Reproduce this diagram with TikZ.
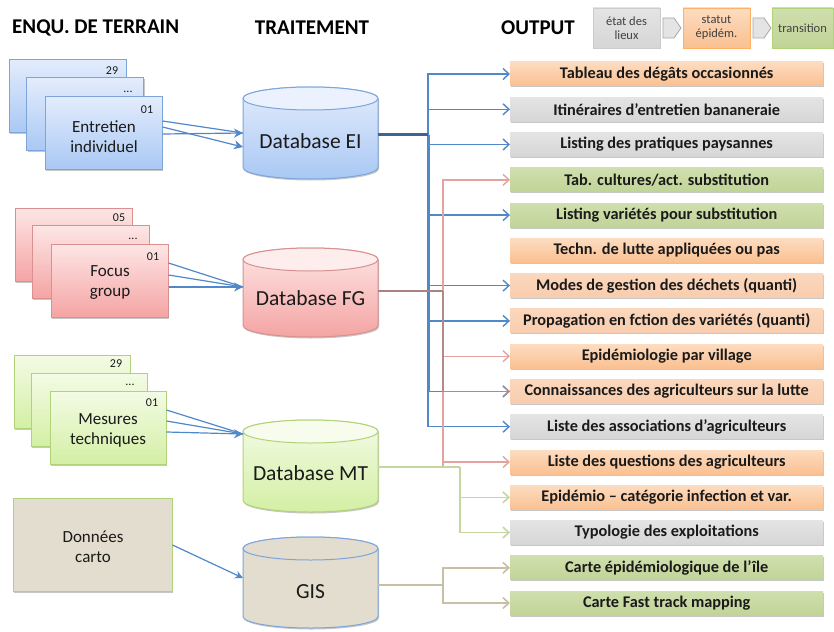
\documentclass[tikz,border=0pt]{standalone}
\usepackage{fontspec}
\setmainfont{Carlito}
\usetikzlibrary{arrows.meta,shadows}
\definecolor{bTop}{HTML}{E3ECFC}\definecolor{bBot}{HTML}{A9C8F4}\definecolor{bBrd}{HTML}{7CA5DA}
\definecolor{pTop}{HTML}{FDE6E6}\definecolor{pBot}{HTML}{F4A4A3}\definecolor{pBrd}{HTML}{D9908E}
\definecolor{gTop}{HTML}{F3FBE5}\definecolor{gBot}{HTML}{D3EFA4}\definecolor{gBrd}{HTML}{B2D27A}
\definecolor{beige}{HTML}{E2DDCE}
\definecolor{oTop}{HTML}{FDDCC0}\definecolor{oBot}{HTML}{FAC091}
\definecolor{peach}{HTML}{FBD7BC}\definecolor{peachB}{HTML}{F9CDAE}
\definecolor{grTop}{HTML}{E4E4E4}\definecolor{grBot}{HTML}{D6D6D6}
\definecolor{gnTop}{HTML}{CFDFAE}\definecolor{gnBot}{HTML}{C1D497}
\definecolor{lnBlue}{HTML}{5088CA}\definecolor{lnBlueD}{HTML}{3E6494}
\definecolor{lnPink}{HTML}{E2A3A1}\definecolor{lnPinkD}{HTML}{A98483}
\definecolor{lnGreen}{HTML}{C5D7A0}\definecolor{lnGis}{HTML}{C8C0A4}
\definecolor{txt}{HTML}{1A1A1A}
\tikzset{
  shad/.style={drop shadow={shadow xshift=1pt,shadow yshift=-1.5pt,fill=black,opacity=0.22}},
  stackb/.style={shad,draw=bBrd,line width=1pt,top color=bTop,bottom color=bBot,minimum width=117pt,minimum height=73pt,inner sep=0pt},
  stackp/.style={shad,draw=pBrd,line width=1pt,top color=pTop,bottom color=pBot,minimum width=117pt,minimum height=73pt,inner sep=0pt},
  stackg/.style={shad,draw=gBrd,line width=1pt,top color=gTop,bottom color=gBot,minimum width=116pt,minimum height=73pt,inner sep=0pt},
  num/.style={font=\fontsize{12}{12}\selectfont,text=txt,inner sep=0pt},
  stxt/.style={font=\fontsize{17}{20}\selectfont,text=txt,align=center,inner sep=0pt},
  dbtxt/.style={font=\fontsize{21.5}{24}\selectfont,text=txt,inner sep=0pt},
  head/.style={font=\fontsize{21}{24}\selectfont\bfseries,inner sep=0pt},
  outb/.style={shad,minimum width=313pt,minimum height=24pt,inner sep=0pt,anchor=west,font=\fontsize{16.3}{18}\selectfont\bfseries,text=txt},
  oorange/.style={outb,top color=oTop,bottom color=oBot},
  opeach/.style={outb,top color=peach,bottom color=peachB},
  ogray/.style={outb,top color=grTop,bottom color=grBot},
  ogreen/.style={outb,top color=gnTop,bottom color=gnBot},
  leg/.style={shad,minimum height=40pt,inner sep=0pt,align=center,font=\fontsize{12.5}{14}\selectfont,text=black!75},
  barb/.style={-{Straight Barb[length=6pt,width=11pt]}},
  ablue/.style={barb,draw=lnBlue,line width=1.4pt},
  apink/.style={barb,draw=lnPink,line width=1.4pt},
  agreen/.style={barb,draw=lnGreen,line width=1.6pt},
  agis/.style={barb,draw=lnGis,line width=1.6pt},
  inarr/.style={draw=lnBlue,line width=1.2pt},
  inarrh/.style={inarr,-{Stealth[length=9pt,width=9pt]}}
}
\begin{document}
\begin{tikzpicture}[x=1pt,y=1pt]
\useasboundingbox (0,0) rectangle (834,-631);
% headers
\node[head,anchor=west] (h1) at (12,-28) {ENQU. DE TERRAIN};
\node[head] (h2) at (312,-28) {TRAITEMENT};
\node[head] (h3) at (538,-28) {OUTPUT};
% legend
\node[leg,minimum width=67pt,top color=grTop,bottom color=grBot,draw=black!20] (lg1) at (626.5,-28) {état des\\lieux};
\node[leg,minimum width=67pt,top color=oTop,bottom color=oBot,draw=orange!60] (lg2) at (716.5,-28) {statut\\épidém.};
\node[leg,minimum width=61pt,top color=gnTop,bottom color=gnBot,draw=gBrd] (lg3) at (802.5,-28) {transition};
\filldraw[fill=grTop,draw=black!35,line width=0.8pt] (663,-18) -- (674,-18) -- (681,-28) -- (674,-38) -- (663,-38) -- cycle;
\filldraw[fill=grTop,draw=black!35,line width=0.8pt] (753,-18) -- (764,-18) -- (771,-28) -- (764,-38) -- (753,-38) -- cycle;
% blue stack
\node[stackb] (ei3) at (67.5,-96) {};
\node[stackb] (ei2) at (85,-114.5) {};
\node[stackb] (ei1) at (103.5,-133) {};
\node[num] (ei3n) at (112,-71) {29};
\node[num] (ei2n) at (128,-92) {...};
\node[num] (ei1n) at (147,-110) {01};
\node[stxt] (ei1t) at (104,-137) {Entretien\\individuel};
% pink stack
\node[stackp] (fg3) at (73.5,-244.5) {};
\node[stackp] (fg2) at (90.5,-262) {};
\node[stackp] (fg1) at (109.5,-280.5) {};
\node[num] (fg3n) at (119,-218) {05};
\node[num] (fg2n) at (133,-239) {...};
\node[num] (fg1n) at (153,-257) {01};
\node[stxt] (fg1t) at (110,-283) {Focus\\group};
% green stack
\node[stackg] (mt3) at (72,-391.5) {};
\node[stackg] (mt2) at (89,-410) {};
\node[stackg] (mt1) at (108,-427.5) {};
\node[num] (mt3n) at (116,-364) {29};
\node[num] (mt2n) at (130,-385) {...};
\node[num] (mt1n) at (152,-403) {01};
\node[stxt] (mt1t) at (108,-430) {Mesures\\techniques};
% donnees carto
\node[shad,draw=gBrd,line width=1pt,fill=beige,minimum width=159pt,minimum height=93pt,inner sep=0pt] (dc) at (92.5,-544.5) {};
\node[stxt] (dct) at (93,-547) {Données\\carto};
% cylinders
\draw[shad,draw=bBrd,line width=1pt,top color=bTop,bottom color=bBot] (243,-98.5) -- (243,-167.5) arc (180:360:67.5pt and 11.5pt) -- (378,-98.5) arc (0:180:67.5pt and 11.5pt) -- cycle;
\draw[draw=bBrd,line width=1pt,fill=bTop!70!white] (310.5,-98.5) ellipse (67.5pt and 11.5pt);
\node[dbtxt] (dbEI) at (310.5,-141) {Database EI};
\draw[shad,draw=pBrd,line width=1pt,top color=pTop,bottom color=pBot] (243,-259.5) -- (243,-325.5) arc (180:360:67.5pt and 11.5pt) -- (378,-259.5) arc (0:180:67.5pt and 11.5pt) -- cycle;
\draw[draw=pBrd,line width=1pt,fill=pTop!70!white] (310.5,-259.5) ellipse (67.5pt and 11.5pt);
\node[dbtxt] (dbFG) at (310.5,-298) {Database FG};
\draw[shad,draw=gBrd,line width=1pt,top color=gTop,bottom color=gBot] (243,-431.5) -- (243,-500.5) arc (180:360:67.5pt and 11.5pt) -- (378,-431.5) arc (0:180:67.5pt and 11.5pt) -- cycle;
\draw[draw=gBrd,line width=1pt,fill=gTop!70!white] (310.5,-431.5) ellipse (67.5pt and 11.5pt);
\node[dbtxt] (dbMT) at (310.5,-473) {Database MT};
\draw[shad,draw=bBrd,line width=1pt,fill=beige] (243,-548.5) -- (243,-616.5) arc (180:360:67.5pt and 11.5pt) -- (378,-548.5) arc (0:180:67.5pt and 11.5pt) -- cycle;
\draw[draw=bBrd,line width=1pt,fill=beige] (310.5,-548.5) ellipse (67.5pt and 11.5pt);
\node[dbtxt] (dbGIS) at (310.5,-592) {GIS};
% output boxes
\node[oorange] (o1) at (510,-74) {Tableau des dégâts occasionnés};
\node[ogray] (o2) at (510,-109.3) {Itinéraires d’entretien bananeraie};
\node[ogray] (o3) at (510,-144.5) {Listing des pratiques paysannes};
\node[ogreen] (o4) at (510,-179.8) {Tab. cultures/act. substitution};
\node[ogreen] (o5) at (510,-215.1) {Listing variétés pour substitution};
\node[oorange] (o6) at (510,-250.4) {Techn. de lutte appliquées ou pas};
\node[opeach] (o7) at (510,-285.6) {Modes de gestion des déchets (quanti)};
\node[opeach] (o8) at (510,-320.9) {Propagation en fction des variétés (quanti)};
\node[oorange] (o9) at (510,-356.2) {Epidémiologie par village};
\node[opeach] (o10) at (510,-391.4) {Connaissances des agriculteurs sur la lutte};
\node[ogray] (o11) at (510,-426.7) {Liste des associations d’agriculteurs};
\node[oorange] (o12) at (510,-462) {Liste des questions des agriculteurs};
\node[oorange] (o13) at (510,-497.3) {Epidémio – catégorie infection et var.};
\node[ogray] (o14) at (510,-532.5) {Typologie des exploitations};
\node[ogreen] (o15) at (510,-567.8) {Carte épidémiologique de l’île};
\node[ogreen] (o16) at (510,-603) {Carte Fast track mapping};
% inputs to databases
\coordinate (eiA) at (243,-133);\coordinate (eiB) at (243,-147);
\draw[inarr] (ei1.east |- 0,-121) -- (eiA);
\draw[inarrh] (ei1.east |- 0,-127) -- (eiB);
\draw[inarrh] (ei1.east |- 0,-134) -- (eiA);
\coordinate (fgA) at (243,-287);
\draw[inarr] (fg1.east |- 0,-263) -- (fgA);
\draw[inarr] (fg1.east |- 0,-275) -- (fgA);
\draw[inarrh] (fg1.east |- 0,-287) -- (fgA);
\coordinate (mtA) at (243,-434);
\draw[inarr] (mt1.east |- 0,-410) -- (mtA);
\draw[inarr] (mt1.east |- 0,-421) -- (mtA);
\draw[inarrh] (mt1.east |- 0,-432) -- (mtA);
\coordinate (gisA) at (243,-578);
\draw[inarr,-{Stealth[length=8pt,width=8pt]}] (dc.east |- 0,-545) -- (gisA);
% EI bus
\coordinate (eiR) at (378,-135);
\coordinate (eiJ) at (428,-135);
\foreach \o in {o1,o2,o3,o5,o7,o8,o10,o11} {\draw[ablue] (eiJ) |- (\o.west);}
\draw[lnBlue,line width=3pt] (eiJ) -- (eiJ |- o10.west);
\draw[lnBlueD,line width=3pt] (eiR) -- (eiJ);
% FG bus
\coordinate (fgR) at (378,-291);
\coordinate (fgJ) at (443,-291);
\coordinate (mtJ) at (460,-467);
\draw[lnPink,line width=1.4pt] (fgJ) -- (fgJ |- mtJ);
\foreach \o in {o4,o9,o12} {\draw[apink] (fgJ) |- (\o.west);}
\draw[apink,draw=lnPinkD!80!lnPink] (fgJ) |- (o10.west);
\draw[lnPinkD,line width=2pt] (fgR) -- (fgJ);
% MT bus
\coordinate (mtR) at (378,-467);
\draw[lnGreen,line width=2pt] (mtR) -- (mtJ);
\foreach \o in {o13,o14} {\draw[agreen] (mtJ) |- (\o.west);}
% GIS bus
\coordinate (gisR) at (378,-585);
\coordinate (gisJ) at (443,-585);
\draw[lnGis,line width=2pt] (gisR) -- (gisJ);
\foreach \o in {o15,o16} {\draw[agis] (gisJ) |- (\o.west);}
\end{tikzpicture}
\end{document}
